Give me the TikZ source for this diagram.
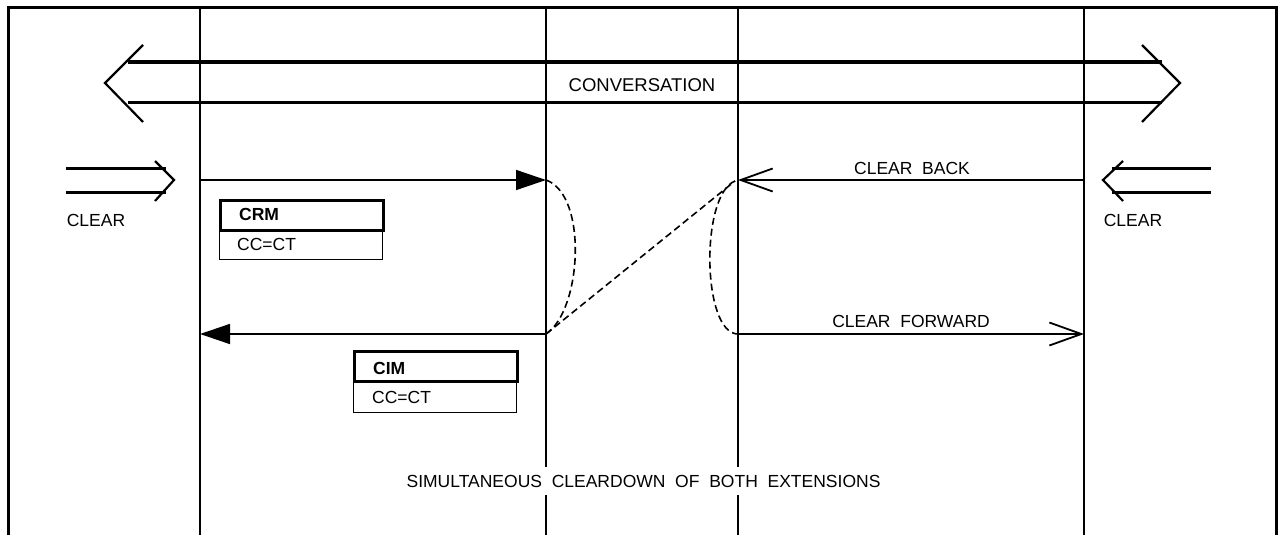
\documentclass[tikz,border=0pt]{standalone}
\usepackage{fontspec}
\setmainfont{Liberation Sans}
\usetikzlibrary{arrows.meta}
\begin{document}
\begin{tikzpicture}[x=1pt,y=-1pt,
  lbl/.style={inner sep=0pt, font=\fontsize{17.5}{20}\selectfont},
  bold/.style={inner sep=0pt, font=\fontsize{17.5}{20}\selectfont\bfseries},
  frame/.style={line width=3pt},
  life/.style={line width=2.3pt},
  msg/.style={line width=1.5pt},
  fat/.style={line width=3pt},
  chev/.style={line width=2.2pt, line join=miter},
  solidtip/.style={-{Triangle[length=30pt,width=20pt]}},
  opentip/.style={-{Straight Barb[length=32pt,width=23pt,line width=1.8pt]}},
  dsh/.style={line width=1.6pt, dash pattern=on 7pt off 4pt},
  hdrbox/.style={draw, line width=3.2pt, minimum width=163pt, minimum height=30pt, anchor=north west, inner sep=0pt},
  bodybox/.style={draw, line width=1.2pt, minimum width=163pt, minimum height=30pt, anchor=north west, inner sep=0pt}
]
\useasboundingbox (0,0) rectangle (1281,535);
% frame
\draw[frame] (8,535) -- (8,8) -- (1276,8) -- (1276,535);
% lifelines
\foreach \n/\x in {A/200,B/546,C/738,D/1084}{
  \coordinate (\n top) at (\x,8);
  \coordinate (\n bot) at (\x,535);
  \draw[life] (\n top) -- (\n bot);
}
% conversation double arrow
\coordinate (cu1) at (128,62); \coordinate (cu2) at (1162,62);
\coordinate (cl1) at (128,102); \coordinate (cl2) at (1162,102);
\draw[fat] (cu1) -- (cu2);
\draw[fat] (cl1) -- (cl2);
\coordinate (lt) at (105,83); \coordinate (lb1) at (143,45); \coordinate (lb2) at (143,122);
\coordinate (rt) at (1180,83); \coordinate (rb1) at (1142,45); \coordinate (rb2) at (1142,122);
\draw[chev] (lb1) -- (lt) -- (lb2);
\draw[chev] (rb1) -- (rt) -- (rb2);
\node[lbl, font=\fontsize{18.5}{20}\selectfont, anchor=base] (conv) at (642,91) {CONVERSATION};
% left CLEAR
\coordinate (ca1) at (66,168); \coordinate (ca2) at (166,168);
\coordinate (cb1) at (66,192); \coordinate (cb2) at (166,192);
\draw[fat] (ca1) -- (ca2);
\draw[fat] (cb1) -- (cb2);
\coordinate (ct) at (174,180); \coordinate (cbu) at (155,161); \coordinate (cbd) at (155,201);
\draw[chev] (cbu) -- (ct) -- (cbd);
\node[lbl, anchor=base] (clearL) at (96,226) {CLEAR};
% right CLEAR
\coordinate (da1) at (1112,168); \coordinate (da2) at (1211,168);
\coordinate (db1) at (1112,192); \coordinate (db2) at (1211,192);
\draw[fat] (da1) -- (da2);
\draw[fat] (db1) -- (db2);
\coordinate (dt) at (1103,180); \coordinate (dbu) at (1123,161); \coordinate (dbd) at (1123,201);
\draw[chev] (dbu) -- (dt) -- (dbd);
\node[lbl, anchor=base] (clearR) at (1133,226) {CLEAR};
% message points
\coordinate (A1) at (200,180); \coordinate (B1) at (546,180);
\coordinate (A2) at (200,334); \coordinate (B2) at (546,334);
\coordinate (C1) at (738,180); \coordinate (D1) at (1084,180);
\coordinate (C2) at (738,334); \coordinate (D2) at (1084,334);
\coordinate (C1d) at (735,181);
\draw[msg, solidtip] (A1) -- (B1);
\draw[msg, solidtip] (B2) -- (A2);
\draw[msg, opentip] (D1) -- (C1);
\draw[msg, opentip] (C2) -- (D2);
\node[lbl, anchor=base] (cback) at (912,174) {CLEAR\ \ BACK};
\node[lbl, anchor=base] (cfwd) at (911,327) {CLEAR\ \ FORWARD};
% dashed
\draw[dsh] (B1) .. controls (588,195) and (582,310) .. (B2);
\draw[dsh] (B2) -- (C1d);
\draw[dsh] (C1d) .. controls (700,195) and (702,334) .. (C2);
% CRM box
\node[bodybox] (crmb) at (219,229) {};
\node[hdrbox] (crmh) at (219,199) {};
\node[bold, anchor=base west] (crmt) at (239,220) {CRM};
\node[lbl, anchor=base west] (crmc) at (237,250) {CC=CT};
% CIM box
\node[bodybox] (cimb) at (353,382) {};
\node[hdrbox] (cimh) at (353,350) {};
\node[bold, anchor=base west] (cimt) at (373,374) {CIM};
\node[lbl, anchor=base west] (cimc) at (372,403) {CC=CT};
% bottom text
\node[lbl, fill=white, text height=13pt, text depth=0pt, inner ysep=7.5pt, inner xsep=2pt, anchor=center] (simul) at (643.5,481) {SIMULTANEOUS\ \ CLEARDOWN\ \ OF\ \ BOTH\ \ EXTENSIONS};
\end{tikzpicture}
\end{document}
